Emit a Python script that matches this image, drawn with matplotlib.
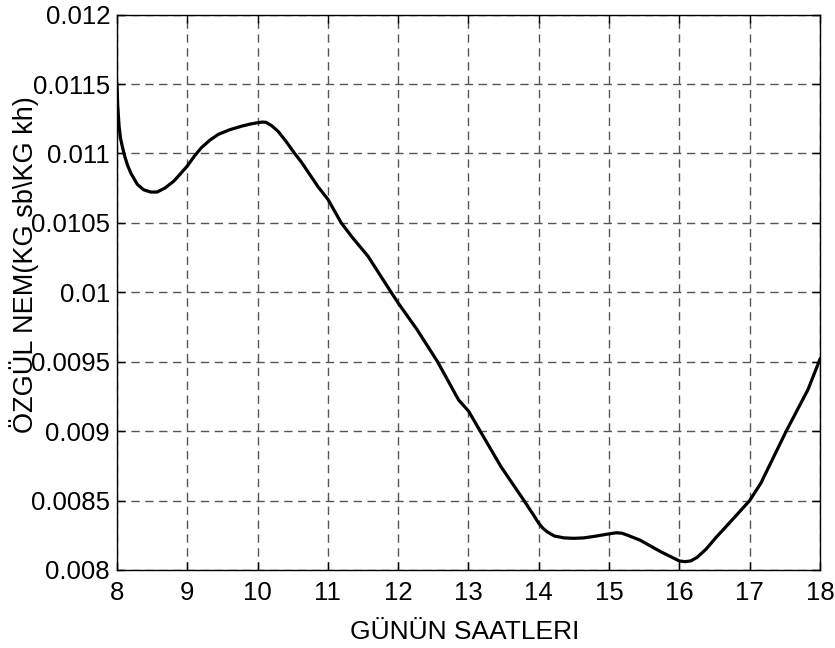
import numpy as np
import matplotlib.pyplot as plt

plt.rcParams['font.family'] = ['Liberation Sans', 'DejaVu Sans']

# values
hours = [8.0, 8.01, 8.03, 8.05, 8.08, 8.11, 8.15, 8.2, 8.29, 8.38, 8.48, 8.57,
         8.68, 8.81, 9.0, 9.1, 9.2, 9.32, 9.44, 9.6, 9.77, 9.9, 10.0, 10.07,
         10.12, 10.2, 10.29, 10.4, 10.52, 10.62, 10.74, 10.86, 11.0, 11.19,
         11.34, 11.57, 11.9, 12.0, 12.27, 12.56, 12.86, 13.0, 13.46, 13.79,
         13.92, 14.0, 14.06, 14.12, 14.22, 14.36, 14.5, 14.64, 14.8, 15.0,
         15.1, 15.18, 15.26, 15.44, 15.74, 15.9, 16.0, 16.08, 16.16, 16.25,
         16.38, 16.53, 16.75, 17.0, 17.16, 17.52, 17.83, 18.0]
nem = [0.01150, 0.011350, 0.011196, 0.011110, 0.011040, 0.010980, 0.010915,
       0.010855, 0.010777, 0.010738, 0.010722, 0.010722, 0.010750, 0.010801,
       0.010909, 0.010980, 0.011041, 0.011095, 0.011137, 0.011170, 0.011196,
       0.011212, 0.011221, 0.011226, 0.011224, 0.011200, 0.011160, 0.011090,
       0.011005, 0.010940, 0.010850, 0.010760, 0.010670, 0.010500, 0.010400,
       0.010260, 0.010000, 0.009923, 0.009730, 0.009500, 0.009224, 0.009145,
       0.008746, 0.008500, 0.008400, 0.008336, 0.008300, 0.008275, 0.008245,
       0.008231, 0.008228, 0.008231, 0.008243, 0.008260, 0.008268, 0.008265,
       0.008251, 0.008215, 0.008130, 0.008090, 0.008065, 0.008060, 0.008065,
       0.008090, 0.008150, 0.008239, 0.008360, 0.008500, 0.008626, 0.009000,
       0.009300, 0.009518]

xticks = list(range(8, 19))
yticks = [0.008, 0.0085, 0.009, 0.0095, 0.01, 0.0105, 0.011, 0.0115, 0.012]
ytick_labels = ['0.008', '0.0085', '0.009', '0.0095', '0.01', '0.0105',
                '0.011', '0.0115', '0.012']

fig = plt.figure(figsize=(8.35, 6.48), dpi=100)
ax = fig.add_axes([0.1401, 0.1204, 0.8419, 0.8571])

ax.plot(hours, nem, color='black', linewidth=2.3, solid_joinstyle='round')

ax.set_xlim(8, 18)
ax.set_ylim(0.008, 0.012)
ax.set_xticks(xticks)
ax.set_yticks(yticks)
ax.set_yticklabels(ytick_labels)
ax.tick_params(direction='in', length=6, width=1, labelsize=18.5,
               top=True, right=True)
ax.tick_params(axis='y', pad=5)
ax.tick_params(axis='x', pad=8)
ax.grid(True, color='#555555', linestyle=(0, (6, 4)), linewidth=1)
for s in ax.spines.values():
    s.set_linewidth(1)

fig.text(465 / 835, 1 - 632 / 648, 'GÜNÜN SAATLERI', ha='center', va='center',
         fontsize=19)
fig.text(24.5 / 835, 1 - 433 / 648, 'ÖZGÜL NEM(KG sb\\KG kh)', ha='center',
         va='bottom', rotation=90, fontsize=19.5)

fig.savefig('out.png', dpi=100)
